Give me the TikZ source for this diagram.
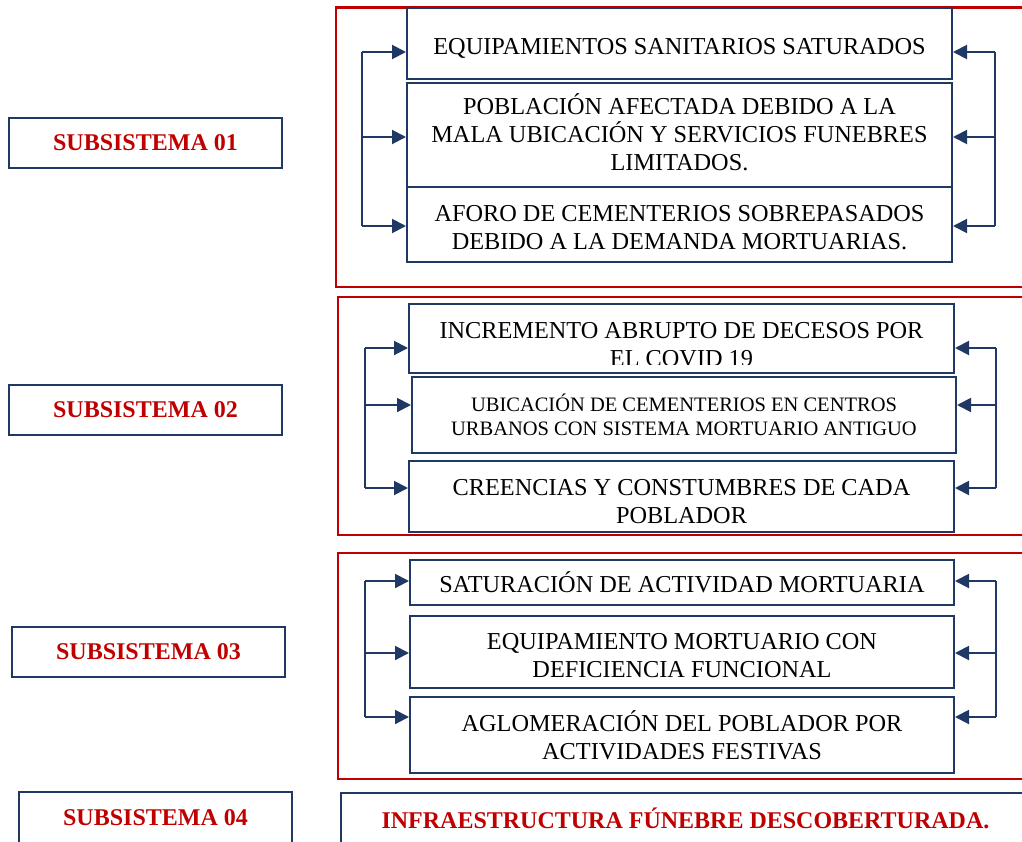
\documentclass[tikz,border=0pt]{standalone}
\usepackage{fontspec}
\setmainfont{Liberation Serif}
\usetikzlibrary{calc}
\usetikzlibrary{arrows.meta}
\definecolor{azulOsc}{RGB}{32,56,100}
\definecolor{rojoOsc}{RGB}{192,0,0}
\tikzstyle{subnode} = [draw=azulOsc, line width=2pt, rectangle, minimum width=273pt, minimum height=50pt, text=rojoOsc, font=\fontsize{24}{28}\selectfont\bfseries]
\tikzstyle{causenode} = [draw=azulOsc, line width=2pt, rectangle, fill=white, align=center, font=\fontsize{24.3}{28}\selectfont]
\tikzstyle{causetext} = [align=center, font=\fontsize{24.3}{28}\selectfont]
\tikzstyle{frameRed} = [draw=rojoOsc, line width=2.6pt]
\tikzstyle{feedLine} = [draw=azulOsc, line width=2pt]
\tikzstyle{feedArrow} = [draw=azulOsc, line width=2pt, -{Triangle[length=14pt,width=14pt]}]

\begin{document}
\begin{tikzpicture}[x=1pt, y=-1pt]
\useasboundingbox (0,0) rectangle (1022,841);
\clip (0,0) rectangle (1022,841);

% red frames
\draw[frameRed] (336,7.5) rectangle (1035,287);
\draw[frameRed] (338,297) rectangle (1035,535);
\draw[frameRed] (338,553) rectangle (1035,779);

% subsistemas
\node[subnode] (sub_01) at (145.5,143) {SUBSISTEMA 01};
\node[subnode] (sub_02) at (145.5,410) {SUBSISTEMA 02};
\node[subnode] (sub_03) at (148.5,651.5) {SUBSISTEMA 03};
\node[subnode, minimum height=52pt] (sub_04) at (155.5,818) {SUBSISTEMA 04};

% group 1
\node[causenode, minimum width=545pt, minimum height=71pt, text height=26pt] (g1_a) at (679.5,43.5) {EQUIPAMIENTOS SANITARIOS SATURADOS};
\node[causenode, minimum width=545pt, minimum height=104pt, text depth=6pt] (g1_b) at (679.5,135) {POBLACIÓN AFECTADA DEBIDO A LA\\MALA UBICACIÓN Y SERVICIOS FUNEBRES\\LIMITADOS.};
\node[causenode, minimum width=545pt, minimum height=75pt, text height=50pt] (g1_c) at (679.5,224.5) {AFORO DE CEMENTERIOS SOBREPASADOS\\DEBIDO A LA DEMANDA MORTUARIAS.};
\coordinate (g1_la) at (362,52);
\coordinate (g1_lb) at (362,137);
\coordinate (g1_lc) at (362,226);
\coordinate (g1_ra) at (995,52);
\coordinate (g1_rb) at (995,137);
\coordinate (g1_rc) at (995,226);

% group 2
\node[causenode, minimum width=545pt, minimum height=69pt] (g2_a) at (681.5,338.5) {};
\begin{scope}
\clip (409,304) rectangle (954,364);
\node[causetext] (g2_a_txt) at (681.5,345) {INCREMENTO ABRUPTO DE DECESOS POR\\EL COVID 19};
\end{scope}
\node[causenode, minimum width=544pt, minimum height=76pt, font=\fontsize{20.5}{24.5}\selectfont] (g2_b) at (684,415) {UBICACIÓN DE CEMENTERIOS EN CENTROS\\URBANOS CON SISTEMA MORTUARIO ANTIGUO};
\node[causenode, minimum width=545pt, minimum height=71pt, text height=54pt] (g2_c) at (681.5,496.5) {CREENCIAS Y CONSTUMBRES DE CADA\\POBLADOR};
\coordinate (g2_la) at (365,348);
\coordinate (g2_lb) at (365,405);
\coordinate (g2_lc) at (365,488);
\coordinate (g2_ra) at (996,348);
\coordinate (g2_rb) at (996,405);
\coordinate (g2_rc) at (996,488);

% group 3
\node[causenode, minimum width=544pt, minimum height=45pt] (g3_a) at (682,582.5) {SATURACIÓN DE ACTIVIDAD MORTUARIA};
\node[causenode, minimum width=544pt, minimum height=72pt, text height=51pt] (g3_b) at (682,652) {EQUIPAMIENTO MORTUARIO CON\\DEFICIENCIA FUNCIONAL};
\node[causenode, minimum width=544pt, minimum height=76pt] (g3_c) at (682,735) {AGLOMERACIÓN DEL POBLADOR POR\\ACTIVIDADES FESTIVAS};
\coordinate (g3_la) at (365,581);
\coordinate (g3_lb) at (365,653);
\coordinate (g3_lc) at (365,717);
\coordinate (g3_ra) at (996,581);
\coordinate (g3_rb) at (996,653);
\coordinate (g3_rc) at (996,717);

% feedback brackets
\foreach \g in {g1,g2,g3} {
    \draw[feedLine] (\g_la) -- (\g_lc);
    \draw[feedLine] (\g_ra) -- (\g_rc);
    \foreach \r in {a,b,c} {
        \draw[feedArrow] (\g_l\r) -- (\g_l\r -| \g_\r.west);
        \draw[feedArrow] (\g_r\r) -- (\g_r\r -| \g_\r.east);
    }
}

% group 4
\node[causenode, line width=2.4pt, minimum width=689pt, minimum height=50pt, text=rojoOsc, font=\fontsize{24}{28}\selectfont\bfseries] (g4_a) at (685.5,818) {INFRAESTRUCTURA FÚNEBRE DESCOBERTURADA.};
\end{tikzpicture}
\end{document}
